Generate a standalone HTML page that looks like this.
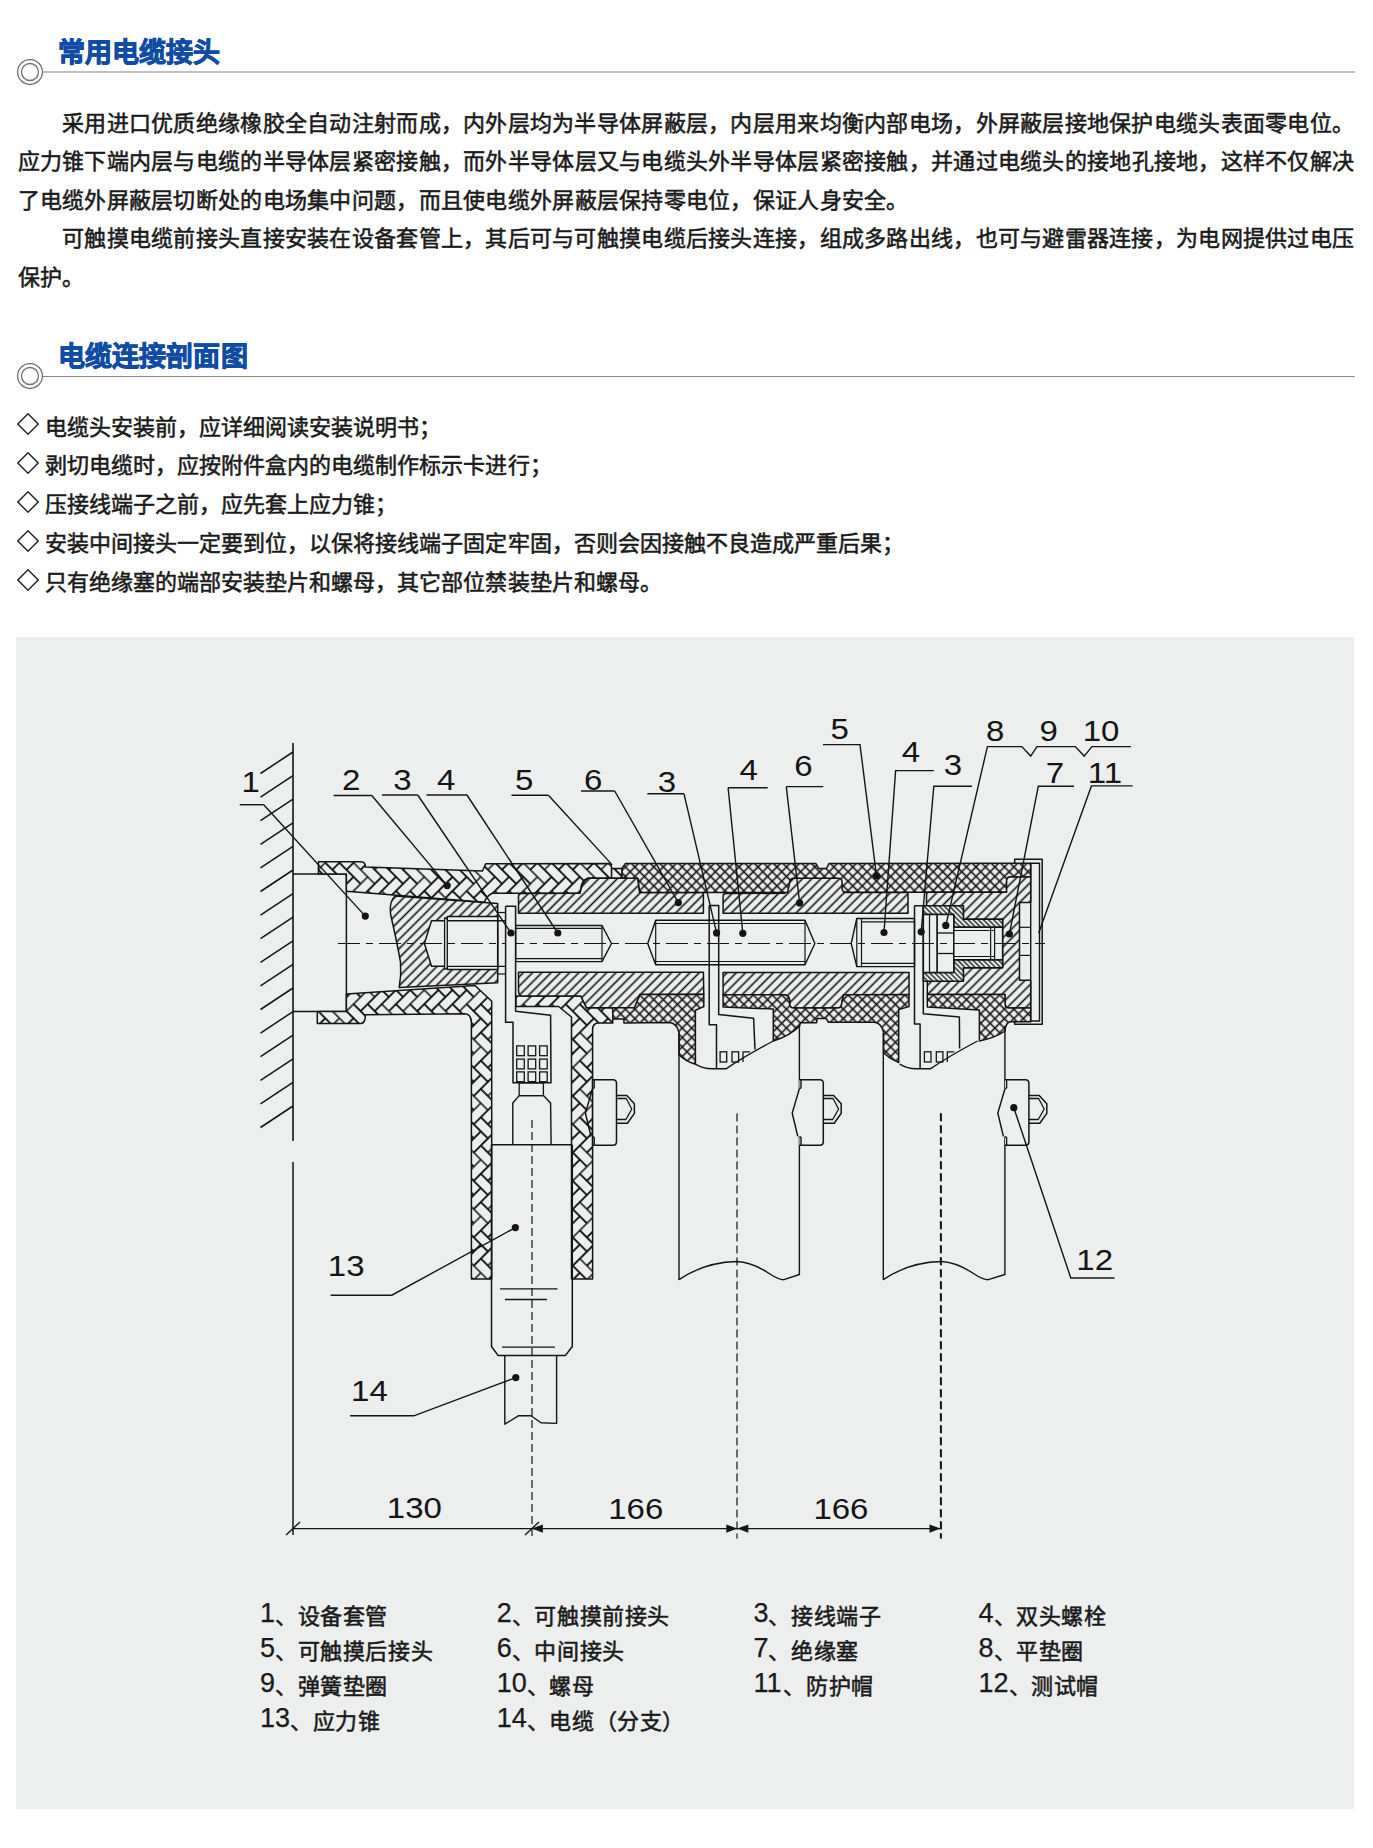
<!DOCTYPE html><html lang="zh-CN"><head><meta charset="utf-8"><title>常用电缆接头</title><style>
@font-face{font-family:"CJ";src:local("Liberation Sans"),local("LiberationSans");size-adjust:133.3333%}
*{margin:0;padding:0}
html,body{width:1373px;height:1848px;background:#fff;overflow:hidden}
body{position:relative;font-family:"Liberation Sans",sans-serif;color:#1a1a1a}
.ln{position:absolute;white-space:nowrap;line-height:1;font-family:"CJ","Liberation Sans",sans-serif;-webkit-text-stroke:0.55px #1a1a1a}
.nm{position:absolute;white-space:nowrap;line-height:1;font-family:"Liberation Sans",sans-serif;-webkit-text-stroke:0.25px #1a1a1a}
.h{position:absolute;white-space:nowrap;line-height:1;color:#0f4ca6;font-weight:bold;font-family:"CJ","Liberation Sans",sans-serif;-webkit-text-stroke:0.9px #0f4ca6}
.rule{position:absolute;left:43px;width:1312px;height:0}
.ring{position:absolute}
.panel{position:absolute;left:16px;top:637px;width:1338px;height:1172px;background:#edefee}
svg{position:absolute;left:0;top:0}
.lb{font-family:"Liberation Sans",sans-serif;font-size:30px;fill:#141414}
.dm{position:absolute;left:17px;width:22px;height:22px}
</style></head><body>
<div class="rule" style="top:70.8px;border-top:2px solid #c0c0c0"></div>
<svg class="ring" style="left:15.9px;top:57.75px" width="28" height="28" viewBox="0 0 28 28"><circle cx="14" cy="14" r="12.4" fill="#fff" stroke="#707070" stroke-width="1.3"/><circle cx="14" cy="14" r="8.5" fill="none" stroke="#707070" stroke-width="1.3"/></svg>
<h2 class="h" style="left:57.5px;top:36.4px;font-size:27px;letter-spacing:0.200px">常用电缆接头</h2>
<div class="rule" style="top:375.8px;border-top:1.2px solid #8a8a8a"></div>
<svg class="ring" style="left:15.9px;top:362.40px" width="28" height="28" viewBox="0 0 28 28"><circle cx="14" cy="14" r="12.4" fill="#fff" stroke="#707070" stroke-width="1.3"/><circle cx="14" cy="14" r="8.5" fill="none" stroke="#707070" stroke-width="1.3"/></svg>
<h2 class="h" style="left:58.0px;top:340.3px;font-size:27px;letter-spacing:0.100px">电缆连接剖面图</h2>
<p class="ln" style="left:62.06px;top:109.5px;font-size:22px;letter-spacing:0.280px">采用进口优质绝缘橡胶全自动注射而成，内外层均为半导体屏蔽层，内层用来均衡内部电场，外屏蔽层接地保护电缆头表面零电位。</p>
<p class="ln" style="left:17.50px;top:148.1px;font-size:22px;letter-spacing:0.280px">应力锥下端内层与电缆的半导体层紧密接触，而外半导体层又与电缆头外半导体层紧密接触，并通过电缆头的接地孔接地，这样不仅解决</p>
<p class="ln" style="left:17.50px;top:186.7px;font-size:22px;letter-spacing:0.280px">了电缆外屏蔽层切断处的电场集中问题，而且使电缆外屏蔽层保持零电位，保证人身安全。</p>
<p class="ln" style="left:62.06px;top:225.3px;font-size:22px;letter-spacing:0.280px">可触摸电缆前接头直接安装在设备套管上，其后可与可触摸电缆后接头连接，组成多路出线，也可与避雷器连接，为电网提供过电压</p>
<p class="ln" style="left:17.50px;top:263.9px;font-size:22px;letter-spacing:0.280px">保护。</p>
<svg class="dm" style="top:413.0px" width="22" height="22" viewBox="0 0 22 22"><path d="M11,0.8 L21.2,11 L11,21.2 L0.8,11 Z" fill="none" stroke="#222" stroke-width="1.4"/></svg>
<p class="ln" style="left:44.5px;top:413.5px;font-size:22px;letter-spacing:0.050px">电缆头安装前，应详细阅读安装说明书；</p>
<svg class="dm" style="top:451.9px" width="22" height="22" viewBox="0 0 22 22"><path d="M11,0.8 L21.2,11 L11,21.2 L0.8,11 Z" fill="none" stroke="#222" stroke-width="1.4"/></svg>
<p class="ln" style="left:44.5px;top:452.4px;font-size:22px;letter-spacing:0.050px">剥切电缆时，应按附件盒内的电缆制作标示卡进行；</p>
<svg class="dm" style="top:490.9px" width="22" height="22" viewBox="0 0 22 22"><path d="M11,0.8 L21.2,11 L11,21.2 L0.8,11 Z" fill="none" stroke="#222" stroke-width="1.4"/></svg>
<p class="ln" style="left:44.5px;top:491.4px;font-size:22px;letter-spacing:0.050px">压接线端子之前，应先套上应力锥；</p>
<svg class="dm" style="top:529.9px" width="22" height="22" viewBox="0 0 22 22"><path d="M11,0.8 L21.2,11 L11,21.2 L0.8,11 Z" fill="none" stroke="#222" stroke-width="1.4"/></svg>
<p class="ln" style="left:44.5px;top:530.3px;font-size:22px;letter-spacing:0.050px">安装中间接头一定要到位，以保将接线端子固定牢固，否则会因接触不良造成严重后果；</p>
<svg class="dm" style="top:568.8px" width="22" height="22" viewBox="0 0 22 22"><path d="M11,0.8 L21.2,11 L11,21.2 L0.8,11 Z" fill="none" stroke="#222" stroke-width="1.4"/></svg>
<p class="ln" style="left:44.5px;top:569.3px;font-size:22px;letter-spacing:0.050px">只有绝缘塞的端部安装垫片和螺母，其它部位禁装垫片和螺母。</p>
<div class="panel"></div>
<svg width="1373" height="1848" viewBox="0 0 1373 1848"><defs><pattern id="brick" patternUnits="userSpaceOnUse" width="40" height="40" patternTransform="rotate(45)"><rect width="40" height="40" fill="#edefee"/><rect x="-10" y="30" width="20" height="10" fill="none" stroke="#141414" stroke-width="1.5"/><rect x="0" y="20" width="20" height="10" fill="none" stroke="#141414" stroke-width="1.5"/><rect x="10" y="30" width="10" height="20" fill="none" stroke="#141414" stroke-width="1.5"/><rect x="0" y="0" width="10" height="20" fill="none" stroke="#141414" stroke-width="1.5"/><rect x="10" y="10" width="20" height="10" fill="none" stroke="#141414" stroke-width="1.5"/><rect x="20" y="20" width="10" height="20" fill="none" stroke="#141414" stroke-width="1.5"/><rect x="30" y="30" width="20" height="10" fill="none" stroke="#141414" stroke-width="1.5"/><rect x="10" y="-10" width="10" height="20" fill="none" stroke="#141414" stroke-width="1.5"/><rect x="20" y="0" width="20" height="10" fill="none" stroke="#141414" stroke-width="1.5"/><rect x="30" y="10" width="10" height="20" fill="none" stroke="#141414" stroke-width="1.5"/></pattern><pattern id="hatch" patternUnits="userSpaceOnUse" width="6.55" height="6.55" patternTransform="rotate(45)"><rect width="6.55" height="6.55" fill="#edefee"/><line x1="3.275" y1="0" x2="3.275" y2="6.55" stroke="#141414" stroke-width="1.6"/></pattern><pattern id="cross" patternUnits="userSpaceOnUse" width="6.7" height="6.7" patternTransform="rotate(45)"><rect width="6.7" height="6.7" fill="#edefee"/><line x1="3.35" y1="0" x2="3.35" y2="6.7" stroke="#141414" stroke-width="1.6"/><line x1="0" y1="3.35" x2="6.7" y2="3.35" stroke="#141414" stroke-width="1.6"/></pattern><pattern id="fine" patternUnits="userSpaceOnUse" width="3.6" height="3.6" patternTransform="rotate(-45)"><rect width="3.6" height="3.6" fill="#edefee"/><line x1="1.8" y1="0" x2="1.8" y2="3.6" stroke="#141414" stroke-width="1.3"/></pattern></defs><line x1="293" y1="743" x2="293" y2="1141" stroke="#141414" stroke-width="1.6"/>
<line x1="293" y1="1162" x2="293" y2="1535" stroke="#141414" stroke-width="1.5"/>
<line x1="293" y1="752" x2="260.5" y2="773.5" stroke="#141414" stroke-width="1.5"/>
<line x1="293" y1="775.6" x2="260.5" y2="797.1" stroke="#141414" stroke-width="1.5"/>
<line x1="293" y1="799.2" x2="260.5" y2="820.7" stroke="#141414" stroke-width="1.5"/>
<line x1="293" y1="822.8" x2="260.5" y2="844.3" stroke="#141414" stroke-width="1.5"/>
<line x1="293" y1="846.4" x2="260.5" y2="867.9" stroke="#141414" stroke-width="1.5"/>
<line x1="293" y1="870" x2="260.5" y2="891.5" stroke="#141414" stroke-width="1.5"/>
<line x1="293" y1="893.6" x2="260.5" y2="915.1" stroke="#141414" stroke-width="1.5"/>
<line x1="293" y1="917.2" x2="260.5" y2="938.7" stroke="#141414" stroke-width="1.5"/>
<line x1="293" y1="940.8" x2="260.5" y2="962.3" stroke="#141414" stroke-width="1.5"/>
<line x1="293" y1="964.4" x2="260.5" y2="985.9" stroke="#141414" stroke-width="1.5"/>
<line x1="293" y1="988" x2="260.5" y2="1009.5" stroke="#141414" stroke-width="1.5"/>
<line x1="293" y1="1011.6" x2="260.5" y2="1033.1" stroke="#141414" stroke-width="1.5"/>
<line x1="293" y1="1035.2" x2="260.5" y2="1056.7" stroke="#141414" stroke-width="1.5"/>
<line x1="293" y1="1058.8" x2="260.5" y2="1080.3" stroke="#141414" stroke-width="1.5"/>
<line x1="293" y1="1082.4" x2="260.5" y2="1103.9" stroke="#141414" stroke-width="1.5"/>
<line x1="293" y1="1106" x2="260.5" y2="1127.5" stroke="#141414" stroke-width="1.5"/>
<path d="M293,873.9 L346.4,873.9 L346.4,1011.5 L293,1011.5" fill="none" stroke="#141414" stroke-width="1.5" stroke-linejoin="round"/>
<path d="M318.4,861.8 L361,861.8 Q365.5,862 365.5,867 L482.5,871 L485.7,863.8 L608.5,863.6 Q611.6,864 611.6,868.4 L611.6,878.2 L588,878.2 Q583,879.5 581.5,885 L580,893.3 L492.3,893.3 Q486.5,896 484.5,902.2 L346.4,891.3 L346.4,873.9 L318.4,873.9 Z" fill="url(#brick)" stroke="#141414" stroke-width="1.5" stroke-linejoin="round"/>
<path d="M611.6,868.4 L622,868.4 L622,878.2 L611.6,878.2 Z" fill="url(#brick)" stroke="#141414" stroke-width="1.5" stroke-linejoin="round"/>
<path d="M317.3,1011.5 L346.4,1011.5 L346.4,994 L475,985.5 L491.7,1001.2 L491.7,1279 L471.4,1279 L471.4,1022 Q471,1014 464.8,1013.7 L365.4,1014.8 Q365.4,1023.5 361,1023.5 L317.3,1023.5 Z" fill="url(#brick)" stroke="#141414" stroke-width="1.5" stroke-linejoin="round"/>
<path d="M515.9,996 L580.8,996 L586.6,1007.8 L612.8,1007.8 L612.8,1023 L598,1023 Q592.6,1023.5 592.6,1029.5 L592.6,1279 L571.5,1279 L571.5,1017 L558.6,1006.5 L515.9,1006.5 Z" fill="url(#brick)" stroke="#141414" stroke-width="1.5" stroke-linejoin="round"/>
<path d="M395,896 Q389,902 390.5,914 Q397,942 400.5,962 Q401.5,975 399.2,987.5 L497.7,982.8 L497.7,903.6 Z" fill="url(#hatch)" stroke="#141414" stroke-width="1.5" stroke-linejoin="round"/>
<path d="M497.7,916.5 L447.3,916.5 L447.3,920.8 L431.5,920.8 L424.4,943.5 L431.5,966.2 L447.3,966.2 L447.3,969.5 L497.7,969.5 Z" fill="#edefee" stroke="#141414" stroke-width="1.5" stroke-linejoin="round"/>
<path d="M518.5,896 Q518.5,893.5 522,893.5 L580,893.3 Q582,882 588,878.2 L637.8,878.2 L639.5,892.4 L703.4,892.4 L703.4,913.2 L518.5,913.2 Z" fill="url(#hatch)" stroke="#141414" stroke-width="1.5" stroke-linejoin="round"/>
<path d="M723.1,896 Q723.1,893.5 726.6,893.5 L784.6,893.3 Q786.6,882 792.6,878.2 L842.4,878.2 L844.1,892.4 L908.0,892.4 L908.0,913.2 L723.1,913.2 Z" fill="url(#hatch)" stroke="#141414" stroke-width="1.5" stroke-linejoin="round"/>
<path d="M518.5,972.2 L703.4,972.2 L703.8,994.2 L640.2,994.4 L634.4,1007.8 L586.6,1007.8 L580.8,996 L522,996 Q518.5,996 518.5,990 Z" fill="url(#hatch)" stroke="#141414" stroke-width="1.5" stroke-linejoin="round"/>
<path d="M723.1,972.5 L909,972.5 L909,994.4 L843.6,994.7 L841.6,1004 Q841.6,1008 837,1008 L794,1008 Q789.6,1008 789.6,1004 L789.6,1000 Q789,995 784.2,994.7 L723.1,994.7 Z" fill="url(#hatch)" stroke="#141414" stroke-width="1.5" stroke-linejoin="round"/>
<path d="M622,868.4 L625.3,863.6 L816,863.6 L818.5,868.4 L826.5,868.4 L829,863.6 L1030.7,863.2 L1030.7,877 L1010,877 Q1006.6,877.5 1006.6,881 L1006.6,892.2 L846,892.2 Q842,892 842,888 L842,882 Q842,878.2 838,878.2 L794,878.2 Q789.8,878.4 789.8,882 L787.6,892.4 L643,892.4 Q639.2,892.2 639.2,888 L637.8,878.2 L622,878.2 Z" fill="url(#cross)" stroke="#141414" stroke-width="1.5" stroke-linejoin="round"/>
<path d="M926.5,892.2 L1006.6,892.2 L1006.6,881 Q1006.6,877 1010,877 L1030.7,877 L1030.7,902.5 L1019.5,902.5 L1019.5,980.2 L1030.7,980.2 L1030.7,1008 L1009,1008 Q1005,1008 1005,1003 L1005,994.4 L927.3,994.4 L927.3,981.3 L963.4,981.3 L963.4,967.7 L1002.6,967.7 L1002.6,919.3 L963.4,919.3 L963.4,905.7 L926.5,905.7 Z" fill="url(#hatch)" stroke="#141414" stroke-width="1.5" stroke-linejoin="round"/>
<path d="M923.3,905.7 L963.4,905.7 L963.4,919.3 L1002.6,919.3 L1002.6,927.3 L953.8,927.3 L953.8,914.5 L923.3,914.5 Z" fill="url(#fine)" stroke="#141414" stroke-width="1.5" stroke-linejoin="round"/>
<path d="M923.3,981.3 L963.4,981.3 L963.4,967.7 L1002.6,967.7 L1002.6,959.7 L953.8,959.7 L953.8,972.5 L923.3,972.5 Z" fill="url(#fine)" stroke="#141414" stroke-width="1.5" stroke-linejoin="round"/>
<path d="M937,914.5 L953.8,914.5 L953.8,972.5 L937,972.5 Z" fill="#edefee" stroke="#141414" stroke-width="1.5" stroke-linejoin="round"/>
<line x1="937" y1="933" x2="953.8" y2="933" stroke="#141414" stroke-width="1.3"/>
<line x1="937" y1="953.5" x2="953.8" y2="953.5" stroke="#141414" stroke-width="1.3"/>
<path d="M923.3,914.5 L937,914.5 L937,972.5 L923.3,972.5 Z" fill="#edefee" stroke="#141414" stroke-width="1.5" stroke-linejoin="round"/>
<line x1="929.5" y1="914.5" x2="929.5" y2="972.5" stroke="#141414" stroke-width="1.2"/>
<path d="M953.8,927.3 L1002.6,927.3 L1002.6,959.7 L953.8,959.7 Z" fill="#edefee" stroke="#141414" stroke-width="1.5" stroke-linejoin="round"/>
<line x1="953.8" y1="930.5" x2="994" y2="930.5" stroke="#141414" stroke-width="1.2"/>
<line x1="953.8" y1="956.5" x2="994" y2="956.5" stroke="#141414" stroke-width="1.2"/>
<line x1="990.6" y1="928" x2="990.6" y2="959" stroke="#141414" stroke-width="1.2"/>
<line x1="994.6" y1="928" x2="994.6" y2="959" stroke="#141414" stroke-width="1.2"/>
<path d="M612.8,1007.8 L634.4,1007.8 L640.2,994.4 L703.8,994.2 L703.8,1006.6 L695.4,1010.3 L695.4,1064.2 Q685,1061 679,1054.7 L679,1033 Q677,1023 669,1022.6 L623.9,1023 L623.9,1018.9 L612.8,1018.9 Z" fill="url(#cross)" stroke="#141414" stroke-width="1.5" stroke-linejoin="round"/>
<path d="M723.1,994.7 L784.2,994.7 Q789,995 789.6,1000 L789.6,1004 Q789.6,1008 794,1008 L837,1008 Q841.6,1008 841.6,1004 L843.6,994.7 L909,994.4 L909,1006.6 L898.7,1009.5 L898.7,1062.5 Q890,1059 883.6,1053 L883.6,1032 Q881,1022.5 874.2,1022.2 L828.3,1022.2 L826.3,1018.6 L817.1,1018.6 L816.6,1022.7 L800.8,1022.7 Q799.5,1025 799.8,1025.8 Q790,1036 773.3,1041 L773.3,1009 L723.1,1007 Z" fill="url(#cross)" stroke="#141414" stroke-width="1.5" stroke-linejoin="round"/>
<path d="M927.3,994.4 L1005,994.4 L1005,1003 Q1005,1008 1009,1008 L1030.7,1008 L1030.7,1021.7 L1010,1021.7 Q1005.5,1023 1005,1031 Q995,1038 979.4,1041 L979.4,1010 L927.3,1007 Z" fill="url(#cross)" stroke="#141414" stroke-width="1.5" stroke-linejoin="round"/>
<path d="M1014.7,863.2 L1014.7,859.2 L1042.2,859.2 L1042.2,1024.3 L1014.7,1024.3 L1014.7,1021" fill="none" stroke="#141414" stroke-width="1.5" stroke-linejoin="round"/>
<path d="M1030.7,863.2 L1039.5,863.2 L1039.5,1021 L1030.7,1021 Z" fill="none" stroke="#141414" stroke-width="1.4" stroke-linejoin="round"/>
<line x1="1019.5" y1="927.3" x2="1030.7" y2="927.3" stroke="#141414" stroke-width="1.2"/>
<line x1="1019.5" y1="955.4" x2="1030.7" y2="955.4" stroke="#141414" stroke-width="1.2"/>
<path d="M444.6,918 Q447.3,917.5 447.3,921 L447.3,966 Q447.3,969.5 444.6,969 Z" fill="#edefee" stroke="#141414" stroke-width="1.3" stroke-linejoin="round"/>
<line x1="447.3" y1="920.8" x2="505.6" y2="920.8" stroke="#141414" stroke-width="1.4"/>
<line x1="447.3" y1="966.4" x2="505.6" y2="966.4" stroke="#141414" stroke-width="1.4"/>
<path d="M515.6,925.5 L602,925.5 L611.5,943.5 L602,961.6 L515.6,961.6 Z" fill="#edefee" stroke="#141414" stroke-width="1.4" stroke-linejoin="round"/>
<line x1="515.6" y1="928.3" x2="602" y2="928.3" stroke="#141414" stroke-width="1.2"/>
<line x1="515.6" y1="958.6" x2="602" y2="958.6" stroke="#141414" stroke-width="1.2"/>
<line x1="602" y1="925.5" x2="602" y2="961.6" stroke="#141414" stroke-width="1.2"/>
<path d="M655.7,920.3 L805,920.3 L814.9,943.5 L805,964.8 L655.7,964.8 L647.7,943.5 Z" fill="#edefee" stroke="#141414" stroke-width="1.4" stroke-linejoin="round"/>
<line x1="655.7" y1="923.5" x2="805" y2="923.5" stroke="#141414" stroke-width="1.2"/>
<line x1="655.7" y1="961.5" x2="805" y2="961.5" stroke="#141414" stroke-width="1.2"/>
<line x1="805" y1="920.3" x2="805" y2="964.8" stroke="#141414" stroke-width="1.2"/>
<line x1="655.7" y1="920.3" x2="655.7" y2="964.8" stroke="#141414" stroke-width="1.2"/>
<path d="M856.8,918.5 L914.5,918.5 L914.5,966.6 L856.8,966.6 L851.2,943.5 Z" fill="#edefee" stroke="#141414" stroke-width="1.4" stroke-linejoin="round"/>
<line x1="861.5" y1="921.8" x2="914.5" y2="921.8" stroke="#141414" stroke-width="1.2"/>
<line x1="861.5" y1="963.3" x2="914.5" y2="963.3" stroke="#141414" stroke-width="1.2"/>
<line x1="856.8" y1="918.5" x2="856.8" y2="966.6" stroke="#141414" stroke-width="1.2"/>
<line x1="861.5" y1="918.5" x2="861.5" y2="966.6" stroke="#141414" stroke-width="1.2"/>
<line x1="338" y1="943.5" x2="1045" y2="943.5" stroke="#141414" stroke-width="1.2" stroke-dasharray="22 6 7 6"/>
<path d="M505.6,906.3 L515.6,906.3 L515.6,1011.2 L550.6,1015.2 L551,1082.8 L513,1082.8 L513,1022.2 L505.6,1022.2 L505.6,906.3" fill="#edefee" stroke="#141414" stroke-width="1.5" stroke-linejoin="round"/>
<path d="M709.2,905.5 L718.7,905.5 L718.7,1014.6 L753.6,1018.3 L755,1049.5" fill="none" stroke="#141414" stroke-width="1.5" stroke-linejoin="round"/>
<path d="M709.2,905.5 L709.2,1024.8 L716.5,1024.8 L716.5,1068.5" fill="none" stroke="#141414" stroke-width="1.5" stroke-linejoin="round"/>
<path d="M914.5,905.7 L923.3,905.7 L923.3,1013.7 L959.4,1016.9 L959.6,1048.5" fill="none" stroke="#141414" stroke-width="1.5" stroke-linejoin="round"/>
<path d="M914.5,905.7 L914.5,1024 L920.1,1024 L920.1,1069" fill="none" stroke="#141414" stroke-width="1.5" stroke-linejoin="round"/>
<line x1="497.7" y1="974" x2="505.6" y2="974" stroke="#141414" stroke-width="1.2"/>
<line x1="497.7" y1="912.5" x2="505.6" y2="912.5" stroke="#141414" stroke-width="1.2"/>
<rect x="516.7" y="1045.9" width="7.6" height="9.8" fill="none" stroke="#141414" stroke-width="1.3"/>
<rect x="516.7" y="1059.1" width="7.6" height="9.8" fill="none" stroke="#141414" stroke-width="1.3"/>
<rect x="516.7" y="1071.9" width="7.6" height="9.8" fill="none" stroke="#141414" stroke-width="1.3"/>
<rect x="528.1" y="1045.9" width="7.6" height="9.8" fill="none" stroke="#141414" stroke-width="1.3"/>
<rect x="528.1" y="1059.1" width="7.6" height="9.8" fill="none" stroke="#141414" stroke-width="1.3"/>
<rect x="528.1" y="1071.9" width="7.6" height="9.8" fill="none" stroke="#141414" stroke-width="1.3"/>
<rect x="539.6" y="1045.9" width="7.6" height="9.8" fill="none" stroke="#141414" stroke-width="1.3"/>
<rect x="539.6" y="1059.1" width="7.6" height="9.8" fill="none" stroke="#141414" stroke-width="1.3"/>
<rect x="539.6" y="1071.9" width="7.6" height="9.8" fill="none" stroke="#141414" stroke-width="1.3"/>
<rect x="720.1" y="1051.8" width="6.6" height="10.2" fill="none" stroke="#141414" stroke-width="1.3"/>
<rect x="732.0" y="1051.8" width="6.6" height="10.2" fill="none" stroke="#141414" stroke-width="1.3"/>
<path d="M743,1062 L743,1051.8 L750,1051.8" fill="none" stroke="#141414" stroke-width="1.3"/>
<rect x="924.4000000000001" y="1051.8" width="6.6" height="10.2" fill="none" stroke="#141414" stroke-width="1.3"/>
<rect x="936.3" y="1051.8" width="6.6" height="10.2" fill="none" stroke="#141414" stroke-width="1.3"/>
<path d="M947.3,1062 L947.3,1051.8 L954.3,1051.8" fill="none" stroke="#141414" stroke-width="1.3"/>
<path d="M519.2,1082.8 L543.4,1082.8 L543.4,1095.6 L519.2,1095.6 Z" fill="none" stroke="#141414" stroke-width="1.3" stroke-linejoin="round"/>
<path d="M512.8,1144.4 L512.8,1103 L519.2,1095.6 L543.4,1095.6 L550.6,1103 L551.1,1144.4" fill="none" stroke="#141414" stroke-width="1.4" stroke-linejoin="round"/>
<line x1="491.7" y1="1144.8" x2="571.5" y2="1144.8" stroke="#141414" stroke-width="1.5"/>
<path d="M491.5,1144.8 L491.5,1346.5 L498,1355.4 L565.5,1355.4 L572.3,1346.5 L572.3,1144.8" fill="none" stroke="#141414" stroke-width="1.5" stroke-linejoin="round"/>
<line x1="500" y1="1288.8" x2="557.5" y2="1288.8" stroke="#141414" stroke-width="1.3"/>
<line x1="505" y1="1299.5" x2="547" y2="1299.5" stroke="#141414" stroke-width="1.3"/>
<line x1="502" y1="1347.2" x2="555" y2="1347.2" stroke="#141414" stroke-width="1.3"/>
<path d="M504.8,1355.4 L504.8,1424.2 L518.3,1415.8 L531,1415.8 L541,1422.8 L556.6,1423.4 L556.6,1355.4" fill="none" stroke="#141414" stroke-width="1.4" stroke-linejoin="round"/>
<line x1="532" y1="1120" x2="532" y2="1538" stroke="#141414" stroke-width="1.2" stroke-dasharray="8 4"/>
<path d="M695.4,1064.2 Q703,1068.8 712,1068.8 L726,1068.8 Q745,1056 773.3,1041" fill="none" stroke="#141414" stroke-width="1.4" stroke-linejoin="round"/>
<line x1="679" y1="1033" x2="679" y2="1280" stroke="#141414" stroke-width="1.4"/>
<line x1="799.4" y1="1025.8" x2="799.4" y2="1088.6" stroke="#141414" stroke-width="1.4"/>
<line x1="799.4" y1="1136.4" x2="799.4" y2="1275" stroke="#141414" stroke-width="1.4"/>
<path d="M679,1279.7 Q705,1262 737,1261.5 Q752,1262 770,1274 Q778,1279.5 784,1279.7 L799.4,1274.5" fill="none" stroke="#141414" stroke-width="1.4" stroke-linejoin="round"/>
<line x1="737" y1="1113.6" x2="737" y2="1538.6" stroke="#141414" stroke-width="1.2" stroke-dasharray="8 4"/>
<path d="M899.7,1064.2 Q907.3,1068.8 916.3,1068.8 L930.3,1068.8 Q949.3,1056 977.5999999999999,1041" fill="none" stroke="#141414" stroke-width="1.4" stroke-linejoin="round"/>
<line x1="883.3" y1="1033" x2="883.3" y2="1280" stroke="#141414" stroke-width="1.4"/>
<line x1="1004.9" y1="1025.8" x2="1004.9" y2="1088.6" stroke="#141414" stroke-width="1.4"/>
<line x1="1004.9" y1="1136.4" x2="1004.9" y2="1275" stroke="#141414" stroke-width="1.4"/>
<path d="M883.3,1279.7 Q909.3,1262 941.3,1261.5 Q956.3,1262 974.3,1274 Q982.3,1279.5 988.3,1279.7 L1004.9000000000001,1274.5" fill="none" stroke="#141414" stroke-width="1.4" stroke-linejoin="round"/>
<line x1="941.3" y1="1113.6" x2="941.3" y2="1538.6" stroke="#141414" stroke-width="1.2" stroke-dasharray="8 4"/>
<path d="M592.6,1079.7 L613.0,1079.7 Q616.5,1079.7 616.5,1083.5 L616.5,1141.5 Q616.5,1145.3 613.0,1145.3 L592.6,1145.3" fill="#edefee" stroke="#141414" stroke-width="1.5" stroke-linejoin="round"/>
<line x1="594.2" y1="1079.7" x2="594.2" y2="1088.3" stroke="#141414" stroke-width="1.4"/>
<line x1="592.6" y1="1088.3" x2="594.2" y2="1088.3" stroke="#141414" stroke-width="1.3"/>
<line x1="594.2" y1="1137" x2="594.2" y2="1145.3" stroke="#141414" stroke-width="1.4"/>
<line x1="592.6" y1="1137" x2="594.2" y2="1137" stroke="#141414" stroke-width="1.3"/>
<path d="M592.6,1088.6 L585.4,1113.1 L591.0,1136.4" fill="none" stroke="#141414" stroke-width="1.5" stroke-linejoin="round"/>
<line x1="592.6" y1="1079.7" x2="592.6" y2="1145.3" stroke="#141414" stroke-width="1.5"/>
<path d="M616.5,1095.6 L626.8,1095.6 L634.4,1103.8 L634.4,1113.4 L627.4,1123.3 L616.5,1123.3" fill="none" stroke="#141414" stroke-width="1.5" stroke-linejoin="round"/>
<path d="M616.5,1098.5 L626.2,1098.5 L631.8,1109 L625.9,1119.5 L616.5,1119.5" fill="none" stroke="#141414" stroke-width="1.3" stroke-linejoin="round"/>
<path d="M799.4000000000001,1079.7 L819.8000000000001,1079.7 Q823.3000000000001,1079.7 823.3000000000001,1083.5 L823.3000000000001,1141.5 Q823.3000000000001,1145.3 819.8000000000001,1145.3 L799.4000000000001,1145.3" fill="#edefee" stroke="#141414" stroke-width="1.5" stroke-linejoin="round"/>
<line x1="801" y1="1079.7" x2="801" y2="1088.3" stroke="#141414" stroke-width="1.4"/>
<line x1="799.4" y1="1088.3" x2="801" y2="1088.3" stroke="#141414" stroke-width="1.3"/>
<line x1="801" y1="1137" x2="801" y2="1145.3" stroke="#141414" stroke-width="1.4"/>
<line x1="799.4" y1="1137" x2="801" y2="1137" stroke="#141414" stroke-width="1.3"/>
<path d="M799.4000000000001,1088.6 L792.2,1113.1 L797.8000000000001,1136.4" fill="none" stroke="#141414" stroke-width="1.5" stroke-linejoin="round"/>
<path d="M823.3000000000001,1095.6 L833.6,1095.6 L841.2,1103.8 L841.2,1113.4 L834.2,1123.3 L823.3000000000001,1123.3" fill="none" stroke="#141414" stroke-width="1.5" stroke-linejoin="round"/>
<path d="M823.3000000000001,1098.5 L833.0000000000001,1098.5 L838.6,1109 L832.7,1119.5 L823.3000000000001,1119.5" fill="none" stroke="#141414" stroke-width="1.3" stroke-linejoin="round"/>
<path d="M1005.0,1079.7 L1025.4,1079.7 Q1028.9,1079.7 1028.9,1083.5 L1028.9,1141.5 Q1028.9,1145.3 1025.4,1145.3 L1005.0,1145.3" fill="#edefee" stroke="#141414" stroke-width="1.5" stroke-linejoin="round"/>
<line x1="1006.6" y1="1079.7" x2="1006.6" y2="1088.3" stroke="#141414" stroke-width="1.4"/>
<line x1="1005" y1="1088.3" x2="1006.6" y2="1088.3" stroke="#141414" stroke-width="1.3"/>
<line x1="1006.6" y1="1137" x2="1006.6" y2="1145.3" stroke="#141414" stroke-width="1.4"/>
<line x1="1005" y1="1137" x2="1006.6" y2="1137" stroke="#141414" stroke-width="1.3"/>
<path d="M1005.0,1088.6 L997.8,1113.1 L1003.4,1136.4" fill="none" stroke="#141414" stroke-width="1.5" stroke-linejoin="round"/>
<path d="M1028.9,1095.6 L1039.2,1095.6 L1046.8000000000002,1103.8 L1046.8000000000002,1113.4 L1039.8000000000002,1123.3 L1028.9,1123.3" fill="none" stroke="#141414" stroke-width="1.5" stroke-linejoin="round"/>
<path d="M1028.9,1098.5 L1038.6000000000001,1098.5 L1044.2,1109 L1038.3000000000002,1119.5 L1028.9,1119.5" fill="none" stroke="#141414" stroke-width="1.3" stroke-linejoin="round"/>
<line x1="293" y1="1528.6" x2="940.5" y2="1528.6" stroke="#141414" stroke-width="1.4"/>
<line x1="940.5" y1="1113" x2="940.5" y2="1538.6" stroke="#141414" stroke-width="1.2" stroke-dasharray="8 4"/>
<path d="M531.9,1528.6 L542.9,1524.5 L542.9,1532.7 Z" fill="#141414"/>
<path d="M737.3,1528.6 L748.3,1524.5 L748.3,1532.7 Z" fill="#141414"/>
<path d="M737.3,1528.6 L726.3,1524.5 L726.3,1532.7 Z" fill="#141414"/>
<path d="M940.5,1528.6 L929.5,1524.5 L929.5,1532.7 Z" fill="#141414"/>
<line x1="286" y1="1535" x2="300" y2="1522" stroke="#141414" stroke-width="1.4"/>
<line x1="525" y1="1535" x2="539" y2="1522" stroke="#141414" stroke-width="1.4"/>
<path d="M239.7,804.7 L263.7,804.7" stroke="#141414" stroke-width="1.4" fill="none"/>
<path d="M263.7,804.7 L365.3,916.1" stroke="#141414" stroke-width="1.4" fill="none"/>
<circle cx="365.3" cy="916.1" r="3.6" fill="#141414"/>
<path d="M333.6,795.5 L371.8,795.5" stroke="#141414" stroke-width="1.4" fill="none"/>
<path d="M371.8,795.5 L447.2,885.6" stroke="#141414" stroke-width="1.4" fill="none"/>
<circle cx="447.2" cy="885.6" r="3.6" fill="#141414"/>
<path d="M382,795 L417.7,795" stroke="#141414" stroke-width="1.4" fill="none"/>
<path d="M417.7,795 L511,933" stroke="#141414" stroke-width="1.4" fill="none"/>
<circle cx="511" cy="933" r="3.6" fill="#141414"/>
<path d="M426.5,795 L466.9,795" stroke="#141414" stroke-width="1.4" fill="none"/>
<path d="M466.9,795 L557.8,933" stroke="#141414" stroke-width="1.4" fill="none"/>
<circle cx="557.8" cy="933" r="3.6" fill="#141414"/>
<path d="M511.5,795.3 L548.4,795.3" stroke="#141414" stroke-width="1.4" fill="none"/>
<path d="M548.4,795.3 L612.2,864.9" stroke="#141414" stroke-width="1.4" fill="none"/>
<path d="M581,791 L614.7,791" stroke="#141414" stroke-width="1.4" fill="none"/>
<path d="M614.7,791 L678.3,902.7" stroke="#141414" stroke-width="1.4" fill="none"/>
<circle cx="678.3" cy="902.7" r="3.6" fill="#141414"/>
<path d="M647.3,793.8 L684,793.8" stroke="#141414" stroke-width="1.4" fill="none"/>
<path d="M684,793.8 L716.6,932.9" stroke="#141414" stroke-width="1.4" fill="none"/>
<circle cx="716.6" cy="932.9" r="3.6" fill="#141414"/>
<path d="M728.1,787.7 L767.7,787.7" stroke="#141414" stroke-width="1.4" fill="none"/>
<path d="M728.1,787.7 L742.8,933.3" stroke="#141414" stroke-width="1.4" fill="none"/>
<circle cx="742.8" cy="933.3" r="3.6" fill="#141414"/>
<path d="M786.3,786.6 L823.2,786.6 M786.3,786.6 L799.6,902.9" stroke="#141414" stroke-width="1.4" fill="none"/>
<circle cx="799.6" cy="902.9" r="3.6" fill="#141414"/>
<path d="M823,744.6 L860,744.6 L876.5,875.9" stroke="#141414" stroke-width="1.4" fill="none"/>
<circle cx="876.5" cy="875.9" r="3.6" fill="#141414"/>
<path d="M933.8,770.6 L895.6,770.6 L884,932.5" stroke="#141414" stroke-width="1.4" fill="none"/>
<circle cx="884" cy="932.5" r="3.6" fill="#141414"/>
<path d="M972,786.2 L933.8,786.2 L921.2,931.8" stroke="#141414" stroke-width="1.4" fill="none"/>
<circle cx="921.2" cy="931.8" r="3.6" fill="#141414"/>
<path d="M1130.9,746.6 L1091.9,746.6 L1084.2,756.1 L1075.3,746.6 L1037,746.6 L1030.7,756.1 L1021.8,746.6 L987.4,746.6 L945.8,925.4" stroke="#141414" stroke-width="1.4" fill="none"/>
<circle cx="945.8" cy="925.4" r="3.6" fill="#141414"/>
<path d="M1074,786.2 L1038.3,786.2 L1009.4,934" stroke="#141414" stroke-width="1.4" fill="none"/>
<circle cx="1009.4" cy="934" r="3.6" fill="#141414"/>
<path d="M1132.7,785.9 L1091.4,785.9 L1038.7,933" stroke="#141414" stroke-width="1.4" fill="none"/>
<path d="M330.6,1295.2 L391.8,1295.2 L515.4,1227.6" stroke="#141414" stroke-width="1.4" fill="none"/>
<circle cx="515.4" cy="1227.6" r="3.6" fill="#141414"/>
<path d="M350.1,1415.8 L413.8,1415.8 L515.8,1377.6" stroke="#141414" stroke-width="1.4" fill="none"/>
<circle cx="515.8" cy="1377.6" r="3.6" fill="#141414"/>
<path d="M1114.5,1278 L1070.8,1278 L1013.8,1107.7" stroke="#141414" stroke-width="1.4" fill="none"/>
<circle cx="1013.8" cy="1107.7" r="3.6" fill="#141414"/>
<text transform="translate(241.5,791.6) scale(1.1,1)" class="lb">1</text>
<text transform="translate(341.9,789.6) scale(1.1,1)" class="lb">2</text>
<text transform="translate(393.3,790.1) scale(1.1,1)" class="lb">3</text>
<text transform="translate(437,790.1) scale(1.1,1)" class="lb">4</text>
<text transform="translate(515.1,790.3) scale(1.1,1)" class="lb">5</text>
<text transform="translate(583.9,790.3) scale(1.1,1)" class="lb">6</text>
<text transform="translate(657.8,791.6) scale(1.1,1)" class="lb">3</text>
<text transform="translate(739.4,780.1) scale(1.1,1)" class="lb">4</text>
<text transform="translate(794.2,776.3) scale(1.1,1)" class="lb">6</text>
<text transform="translate(830.4,738.8) scale(1.1,1)" class="lb">5</text>
<text transform="translate(901.7,761.8) scale(1.1,1)" class="lb">4</text>
<text transform="translate(943.8,774.6) scale(1.1,1)" class="lb">3</text>
<text transform="translate(985.9,741.4) scale(1.1,1)" class="lb">8</text>
<text transform="translate(1039.4,741.4) scale(1.1,1)" class="lb">9</text>
<text transform="translate(1082.7,741.4) scale(1.1,1)" class="lb">10</text>
<text transform="translate(1045.8,783.4) scale(1.1,1)" class="lb">7</text>
<text transform="translate(1087.8,783.4) scale(1.1,1)" class="lb">11</text>
<text transform="translate(327.8,1275.9) scale(1.1,1)" class="lb">13</text>
<text transform="translate(351.1,1400.6) scale(1.1,1)" class="lb">14</text>
<text transform="translate(1076.3,1269.6) scale(1.1,1)" class="lb">12</text>
<text transform="translate(386.8,1517.9) scale(1.1,1)" class="lb">130</text>
<text transform="translate(608.2,1519.1) scale(1.1,1)" class="lb">166</text>
<text transform="translate(813.4,1519.1) scale(1.1,1)" class="lb">166</text></svg>
<div class="nm" style="left:260.0px;top:1599.7px;font-size:27.0px">1</div>
<div class="ln" style="left:275.0px;top:1602.5px;font-size:22px;letter-spacing:0.600px">、设备套管</div>
<div class="nm" style="left:496.8px;top:1599.7px;font-size:27.0px">2</div>
<div class="ln" style="left:511.8px;top:1602.5px;font-size:22px;letter-spacing:0.600px">、可触摸前接头</div>
<div class="nm" style="left:753.4px;top:1599.7px;font-size:27.0px">3</div>
<div class="ln" style="left:768.4px;top:1602.5px;font-size:22px;letter-spacing:0.600px">、接线端子</div>
<div class="nm" style="left:978.6px;top:1599.7px;font-size:27.0px">4</div>
<div class="ln" style="left:993.6px;top:1602.5px;font-size:22px;letter-spacing:0.600px">、双头螺栓</div>
<div class="nm" style="left:260.0px;top:1634.8px;font-size:27.0px">5</div>
<div class="ln" style="left:275.0px;top:1637.6px;font-size:22px;letter-spacing:0.600px">、可触摸后接头</div>
<div class="nm" style="left:496.8px;top:1634.8px;font-size:27.0px">6</div>
<div class="ln" style="left:511.8px;top:1637.6px;font-size:22px;letter-spacing:0.600px">、中间接头</div>
<div class="nm" style="left:753.4px;top:1634.8px;font-size:27.0px">7</div>
<div class="ln" style="left:768.4px;top:1637.6px;font-size:22px;letter-spacing:0.600px">、绝缘塞</div>
<div class="nm" style="left:978.6px;top:1634.8px;font-size:27.0px">8</div>
<div class="ln" style="left:993.6px;top:1637.6px;font-size:22px;letter-spacing:0.600px">、平垫圈</div>
<div class="nm" style="left:260.0px;top:1669.9px;font-size:27.0px">9</div>
<div class="ln" style="left:275.0px;top:1672.7px;font-size:22px;letter-spacing:0.600px">、弹簧垫圈</div>
<div class="nm" style="left:496.8px;top:1669.9px;font-size:27.0px">10</div>
<div class="ln" style="left:526.8px;top:1672.7px;font-size:22px;letter-spacing:0.600px">、螺母</div>
<div class="nm" style="left:753.4px;top:1669.9px;font-size:27.0px">11</div>
<div class="ln" style="left:783.4px;top:1672.7px;font-size:22px;letter-spacing:0.600px">、防护帽</div>
<div class="nm" style="left:978.6px;top:1669.9px;font-size:27.0px">12</div>
<div class="ln" style="left:1008.6px;top:1672.7px;font-size:22px;letter-spacing:0.600px">、测试帽</div>
<div class="nm" style="left:260.0px;top:1705.0px;font-size:27.0px">13</div>
<div class="ln" style="left:290.0px;top:1707.8px;font-size:22px;letter-spacing:0.600px">、应力锥</div>
<div class="nm" style="left:496.8px;top:1705.0px;font-size:27.0px">14</div>
<div class="ln" style="left:526.8px;top:1707.8px;font-size:22px;letter-spacing:0.600px">、电缆（分支）</div>
</body></html>
